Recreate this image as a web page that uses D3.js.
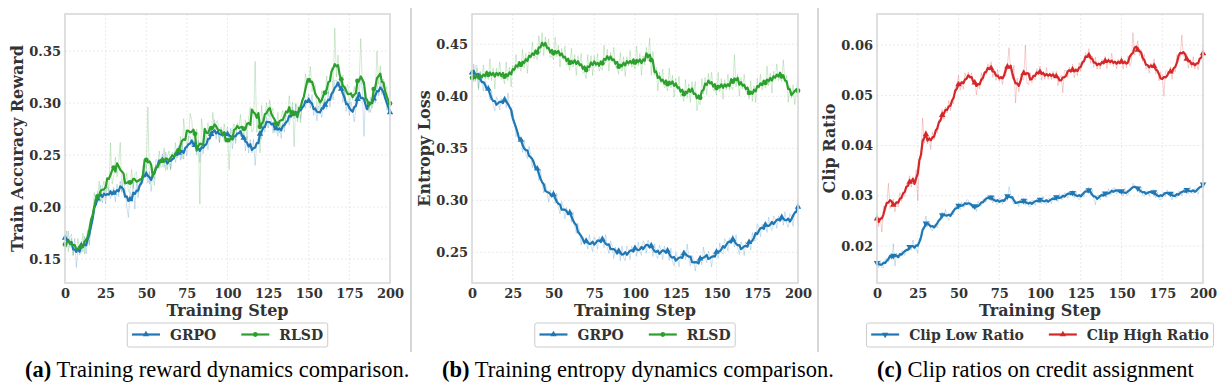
<!DOCTYPE html>
<html>
<head>
<meta charset="utf-8">
<script src="https://cdn.jsdelivr.net/npm/d3@7"></script>
<style>
  body { margin: 0; background: #fff; }
  svg { display: block; }
  .chart-text { font-family: "DejaVu Serif", serif; }
  .caption { font-family: "Liberation Serif", "Times New Roman", serif; }
</style>
</head>
<body>
<div id="chart"></div>
<script>
// training steps 0..200
var steps = d3.range(0, 201)
var xTicks = [0, 25, 50, 75, 100, 125, 150, 175, 200]
var rewardTicks = [0.15, 0.20, 0.25, 0.30, 0.35]
var entropyTicks = [0.25, 0.30, 0.35, 0.40, 0.45]
var clipTicks = [0.02, 0.03, 0.04, 0.05, 0.06]

// raw per-step values
var rewardGRPO = [
  .173,.161,.177,.161,.170,.154,.170,.142,.160,.159,
  .167,.157,.172,.155,.169,.163,.188,.194,.193,.206,
  .215,.205,.221,.204,.216,.203,.220,.215,.208,.214,
  .219,.205,.222,.210,.225,.214,.228,.217,.201,.190,
  .215,.207,.224,.198,.225,.209,.223,.224,.223,.236,
  .241,.223,.234,.215,.231,.227,.246,.244,.237,.246,
  .251,.238,.253,.236,.246,.236,.253,.251,.243,.252,
  .259,.245,.261,.246,.259,.249,.268,.268,.258,.262,
  .264,.250,.264,.243,.262,.251,.267,.262,.255,.267,
  .277,.268,.284,.265,.275,.262,.277,.272,.263,.271,
  .277,.263,.276,.256,.269,.261,.278,.277,.268,.271,
  .271,.254,.268,.252,.265,.252,.265,.240,.262,.267,
  .273,.265,.285,.272,.287,.276,.290,.284,.271,.276,
  .281,.268,.282,.266,.281,.272,.289,.286,.279,.289,
  .296,.285,.299,.282,.295,.285,.302,.301,.295,.304,
  .309,.295,.308,.288,.297,.283,.297,.293,.286,.296,
  .304,.294,.311,.296,.311,.303,.322,.322,.315,.320,
  .320,.301,.312,.292,.302,.288,.301,.293,.282,.294,
  .310,.307,.326,.312,.268,.312,.301,.298,.291,.301,
  .309,.300,.320,.307,.321,.308,.319,.310,.293,.294,
  .286]
var rewardRLSD = [
  .158,.177,.157,.171,.174,.153,.164,.156,.170,.154,
  .156,.175,.155,.170,.178,.165,.189,.192,.214,.202,
  .205,.225,.205,.219,.225,.209,.227,.215,.262,.222,
  .229,.248,.229,.242,.262,.215,.231,.221,.233,.215,
  .216,.236,.218,.232,.234,.213,.225,.221,.240,.233,
  .236,.296,.222,.228,.238,.221,.241,.238,.254,.238,
  .239,.257,.235,.249,.254,.236,.251,.246,.262,.247,
  .250,.268,.246,.285,.270,.257,.265,.290,.284,.263,
  .260,.275,.270,.203,.285,.272,.272,.266,.281,.266,
  .270,.291,.271,.282,.283,.262,.275,.267,.280,.262,
  .272,.236,.272,.274,.280,.264,.281,.276,.289,.269,
  .268,.284,.266,.286,.296,.272,.275,.340,.272,.290,
  .252,.298,.274,.287,.300,.287,.303,.291,.295,.272,
  .272,.291,.271,.286,.293,.276,.293,.290,.307,.289,
  .301,.258,.300,.295,.298,.281,.301,.304,.328,.317,
  .319,.335,.311,.320,.318,.293,.303,.296,.312,.299,
  .304,.326,.309,.326,.334,.310,.372,.325,.346,.323,
  .316,.327,.302,.314,.318,.298,.311,.303,.316,.301,
  .309,.318,.362,.318,.321,.294,.301,.291,.306,.295,
  .304,.312,.350,.318,.336,.314,.323,.310,.316,.293,
  .290]
var entropyGRPO = [
  .425,.414,.429,.430,.408,.423,.417,.405,.415,.408,
  .411,.396,.405,.391,.386,.399,.396,.387,.398,.393,
  .400,.389,.403,.390,.381,.386,.376,.361,.368,.358,
  .360,.346,.358,.345,.340,.352,.345,.331,.339,.331,
  .333,.319,.330,.315,.307,.316,.309,.298,.310,.304,
  .310,.297,.307,.293,.287,.299,.294,.282,.293,.287,
  .292,.279,.289,.275,.268,.278,.271,.257,.265,.257,
  .263,.253,.267,.256,.251,.265,.262,.253,.265,.261,
  .266,.254,.267,.255,.249,.261,.256,.244,.255,.249,
  .254,.242,.256,.245,.242,.256,.252,.243,.256,.251,
  .257,.246,.260,.250,.247,.261,.258,.249,.262,.256,
  .260,.246,.258,.247,.244,.257,.252,.243,.256,.251,
  .255,.242,.254,.241,.237,.250,.246,.236,.248,.244,
  .252,.243,.258,.244,.237,.247,.243,.232,.243,.238,
  .246,.238,.255,.245,.240,.251,.246,.236,.249,.246,
  .254,.244,.259,.250,.248,.263,.260,.251,.264,.260,
  .267,.255,.267,.254,.248,.260,.256,.247,.260,.256,
  .262,.252,.269,.261,.261,.277,.274,.265,.277,.273,
  .279,.269,.284,.274,.271,.285,.282,.273,.285,.281,
  .287,.276,.289,.278,.274,.287,.284,.275,.289,.292,
  .300]
var entropyRLSD = [
  .408,.431,.414,.427,.406,.424,.414,.430,.416,.420,
  .416,.436,.415,.427,.407,.427,.418,.433,.416,.418,
  .412,.433,.415,.428,.409,.430,.423,.440,.426,.429,
  .424,.445,.427,.441,.422,.443,.436,.452,.436,.439,
  .435,.458,.442,.461,.439,.457,.444,.455,.437,.439,
  .435,.457,.438,.449,.428,.446,.435,.448,.430,.431,
  .425,.446,.428,.440,.420,.439,.428,.441,.422,.423,
  .417,.440,.424,.439,.420,.439,.428,.441,.424,.428,
  .425,.449,.432,.445,.424,.442,.433,.447,.428,.427,
  .421,.442,.424,.438,.419,.438,.429,.444,.428,.431,
  .426,.448,.429,.441,.420,.439,.430,.447,.434,.456,
  .420,.443,.420,.428,.405,.423,.412,.426,.408,.410,
  .405,.427,.408,.420,.399,.417,.406,.419,.400,.401,
  .395,.416,.398,.412,.394,.414,.403,.414,.386,.395,
  .392,.417,.402,.418,.401,.422,.411,.423,.405,.406,
  .401,.423,.404,.417,.397,.416,.406,.421,.406,.409,
  .406,.440,.409,.421,.400,.418,.407,.421,.404,.405,
  .397,.415,.395,.410,.394,.417,.407,.421,.406,.411,
  .408,.429,.410,.422,.403,.424,.416,.431,.415,.418,
  .414,.435,.413,.420,.394,.410,.398,.411,.392,.404,
  .420]
var clipLow = [
  .0172,.0157,.0171,.0157,.0157,.0173,.0176,.0168,.0180,.0173,
  .0205,.0160,.0186,.0176,.0177,.0190,.0190,.0181,.0195,.0192,
  .0202,.0192,.0212,.0199,.0195,.0185,.0215,.0210,.0236,.0241,
  .0260,.0238,.0250,.0234,.0230,.0242,.0243,.0236,.0254,.0254,
  .0268,.0259,.0273,.0255,.0251,.0265,.0268,.0262,.0279,.0277,
  .0286,.0272,.0288,.0277,.0278,.0292,.0292,.0279,.0285,.0274,
  .0280,.0269,.0289,.0280,.0280,.0293,.0294,.0287,.0302,.0296,
  .0302,.0286,.0299,.0285,.0283,.0295,.0294,.0283,.0294,.0289,
  .0290,.0318,.0305,.0289,.0283,.0291,.0288,.0278,.0292,.0288,
  .0296,.0281,.0294,.0279,.0278,.0291,.0291,.0281,.0294,.0288,
  .0297,.0284,.0299,.0285,.0283,.0295,.0294,.0284,.0298,.0294,
  .0302,.0288,.0304,.0293,.0293,.0306,.0305,.0295,.0309,.0304,
  .0311,.0296,.0310,.0295,.0292,.0304,.0305,.0298,.0314,.0310,
  .0318,.0302,.0313,.0295,.0282,.0301,.0301,.0292,.0306,.0300,
  .0308,.0296,.0314,.0303,.0303,.0316,.0315,.0303,.0314,.0306,
  .0313,.0299,.0315,.0302,.0301,.0314,.0314,.0325,.0319,.0313,
  .0320,.0305,.0318,.0302,.0299,.0310,.0309,.0299,.0312,.0307,
  .0313,.0296,.0308,.0293,.0292,.0306,.0307,.0299,.0312,.0304,
  .0308,.0292,.0307,.0296,.0296,.0309,.0309,.0300,.0313,.0308,
  .0316,.0303,.0318,.0305,.0304,.0315,.0313,.0303,.0317,.0322,
  .0330]
var clipHigh = [
  .0266,.0239,.0258,.0228,.0280,.0270,.0280,.0325,.0275,.0282,
  .0294,.0268,.0290,.0278,.0306,.0289,.0307,.0299,.0323,.0320,
  .0340,.0317,.0338,.0322,.0352,.0290,.0372,.0385,.0455,.0405,
  .0430,.0403,.0419,.0392,.0427,.0412,.0432,.0425,.0452,.0451,
  .0472,.0452,.0477,.0465,.0490,.0470,.0488,.0483,.0515,.0520,
  .0540,.0510,.0524,.0512,.0545,.0530,.0547,.0533,.0545,.0526,
  .0532,.0501,.0522,.0513,.0545,.0528,.0548,.0541,.0563,.0555,
  .0567,.0536,.0550,.0530,.0552,.0528,.0538,.0522,.0542,.0539,
  .0558,.0595,.0551,.0532,.0560,.0485,.0535,.0507,.0533,.0534,
  .0530,.0600,.0525,.0521,.0545,.0525,.0541,.0531,.0553,.0545,
  .0558,.0530,.0548,.0532,.0555,.0532,.0545,.0531,.0548,.0537,
  .0548,.0519,.0536,.0540,.0505,.0550,.0549,.0536,.0556,.0548,
  .0562,.0535,.0554,.0539,.0565,.0548,.0569,.0562,.0585,.0578,
  .0593,.0564,.0578,.0556,.0576,.0552,.0565,.0552,.0572,.0564,
  .0578,.0553,.0575,.0561,.0584,.0558,.0568,.0553,.0572,.0564,
  .0578,.0552,.0571,.0555,.0579,.0559,.0565,.0625,.0580,.0593,
  .0609,.0579,.0591,.0567,.0582,.0552,.0560,.0544,.0564,.0558,
  .0573,.0543,.0554,.0529,.0547,.0540,.0498,.0548,.0550,.0542,
  .0557,.0532,.0554,.0546,.0581,.0570,.0575,.0620,.0578,.0575,
  .0583,.0554,.0572,.0555,.0577,.0552,.0564,.0551,.0574,.0578,
  .0598]

var captions = [
  ["(a)", " Training reward dynamics comparison."],
  ["(b)", " Training entropy dynamics comparison."],
  ["(c)", " Clip ratios on credit assignment"]
]

var W = 1219, H = 385
var plotTop = 14, plotBottom = 283

var svg = d3.select("#chart").append("svg").attr("width", W).attr("height", H)
svg.append("rect").attr("width", W).attr("height", H).attr("fill", "#fff")

var panels = [
  { left: 65, right: 390, dom: [0.127, 0.3856], ticks: rewardTicks, ylabel: "Train Accuracy Reward",
    capX: 25,
    series: [
      { name: "GRPO", values: rewardGRPO, color: "#1f77b4", sym: d3.symbolTriangle, rot: 0 },
      { name: "RLSD", values: rewardRLSD, color: "#2ca02c", sym: d3.symbolCircle, rot: 0 }] },
  { left: 472, right: 798, dom: [0.2205, 0.479], ticks: entropyTicks, ylabel: "Entropy Loss",
    capX: 442,
    series: [
      { name: "GRPO", values: entropyGRPO, color: "#1f77b4", sym: d3.symbolTriangle, rot: 0 },
      { name: "RLSD", values: entropyRLSD, color: "#2ca02c", sym: d3.symbolCircle, rot: 0 }] },
  { left: 877, right: 1203, dom: [0.01264, 0.0662], ticks: clipTicks, ylabel: "Clip Ratio",
    capX: 877,
    series: [
      { name: "Clip Low Ratio", values: clipLow, color: "#1f77b4", sym: d3.symbolTriangle, rot: 180 },
      { name: "Clip High Ratio", values: clipHigh, color: "#d62728", sym: d3.symbolTriangle, rot: 0 }] }
]

// centred rolling mean, window 5
function smooth(vals) {
  return vals.map(function(v, i) {
    return d3.mean(vals.slice(Math.max(0, i - 2), i + 3))
  })
}

panels.forEach(function(p, pi) {
  var x = d3.scaleLinear().domain([0, 200]).range([p.left, p.right])
  var y = d3.scaleLinear().domain(p.dom).range([plotBottom, plotTop])
  var g = svg.append("g").attr("class", "chart-text")

  // grid
  g.selectAll(".gx").data(xTicks.slice(1, -1)).enter().append("line")
    .attr("x1", d => x(d)).attr("x2", d => x(d)).attr("y1", plotTop).attr("y2", plotBottom)
    .attr("stroke", "#e4e4e4").attr("stroke-width", 0.8).attr("stroke-dasharray", "2,2")
  g.selectAll(".gy").data(p.ticks).enter().append("line")
    .attr("x1", p.left).attr("x2", p.right).attr("y1", d => y(d)).attr("y2", d => y(d))
    .attr("stroke", "#e4e4e4").attr("stroke-width", 0.8).attr("stroke-dasharray", "2,2")

  var line = d3.line().x((d, i) => x(steps[i])).y(d => y(d))

  // raw traces
  p.series.forEach(function(s) {
    g.append("path").datum(s.values).attr("d", line)
      .attr("fill", "none").attr("stroke", s.color).attr("stroke-width", 1).attr("stroke-opacity", 0.22)
  })
  // smoothed traces with markers
  p.series.forEach(function(s) {
    var sm = smooth(s.values)
    g.append("path").datum(sm).attr("d", line)
      .attr("fill", "none").attr("stroke", s.color).attr("stroke-width", 2.2)
      .attr("stroke-linejoin", "round")
    g.selectAll(null).data(steps.filter(i => i % 10 === 0)).enter().append("path")
      .attr("d", d3.symbol().type(s.sym).size(18))
      .attr("transform", i => "translate(" + x(i) + "," + y(sm[i]) + ") rotate(" + s.rot + ")")
      .attr("fill", s.color)
  })

  // frame
  g.append("rect").attr("x", p.left).attr("y", plotTop)
    .attr("width", p.right - p.left).attr("height", plotBottom - plotTop)
    .attr("fill", "none").attr("stroke", "#d8d8d8").attr("stroke-width", 1.6)

  // axes
  var ax = g.append("g").attr("transform", "translate(0," + plotBottom + ")")
    .call(d3.axisBottom(x).tickValues(xTicks).tickSize(0).tickPadding(6))
  var ay = g.append("g").attr("transform", "translate(" + p.left + ",0)")
    .call(d3.axisLeft(y).tickValues(p.ticks).tickFormat(d3.format(".2f")).tickSize(0).tickPadding(4))
  ;[ax, ay].forEach(function(a) {
    a.select(".domain").remove()
    a.selectAll("text").style("font-family", "'DejaVu Serif', serif").attr("font-weight", "bold")
      .attr("font-size", 13).attr("fill", "#333")
  })

  // axis titles
  g.append("text").attr("x", (p.left + p.right) / 2).attr("y", 316)
    .attr("text-anchor", "middle").attr("font-weight", "bold").attr("font-size", 16).attr("fill", "#333")
    .text("Training Step")
  g.append("text")
    .attr("transform", "translate(" + (p.left - 42) + "," + ((plotTop + plotBottom) / 2) + ") rotate(-90)")
    .attr("text-anchor", "middle").attr("font-weight", "bold").attr("font-size", 16).attr("fill", "#333")
    .text(p.ylabel)

  // legend
  var lg = g.append("g")
  var box = lg.append("rect").attr("y", 323).attr("height", 24).attr("rx", 2)
    .attr("fill", "#fff").attr("stroke", "#cccccc").attr("stroke-width", 1)
  var cx = 0
  p.series.forEach(function(s, si) {
    if (si > 0) cx += 25
    var item = lg.append("g")
    item.append("line").attr("x1", cx).attr("x2", cx + 28).attr("y1", 334.5).attr("y2", 334.5)
      .attr("stroke", s.color).attr("stroke-width", 2.2)
    item.append("path").attr("d", d3.symbol().type(s.sym).size(18))
      .attr("transform", "translate(" + (cx + 14) + ",334.5) rotate(" + s.rot + ")").attr("fill", s.color)
    var t = item.append("text").attr("x", cx + 38).attr("y", 339.5)
      .attr("font-weight", "bold").attr("font-size", 14).attr("fill", "#333").text(s.name)
    cx += 38 + t.node().getComputedTextLength()
  })
  var total = cx + 4.7 + 4.7
  var x0 = (p.left + p.right) / 2 - total / 2
  box.attr("x", x0).attr("width", total)
  lg.selectAll("g").attr("transform", "translate(" + (x0 + 4.7) + ",0)")

  // caption
  var cap = svg.append("text").attr("class", "caption").attr("x", p.capX).attr("y", 377)
    .attr("font-size", 22.5).attr("fill", "#000")
  cap.append("tspan").attr("font-weight", "bold").text(captions[pi][0])
  cap.append("tspan").text(captions[pi][1])
})

// separators between sub-figures
svg.selectAll(".sep").data([411, 818]).enter().append("line")
  .attr("x1", d => d).attr("x2", d => d).attr("y1", 8).attr("y2", 352)
  .attr("stroke", "#bdbdbd").attr("stroke-width", 1.2)
</script>
</body>
</html>
